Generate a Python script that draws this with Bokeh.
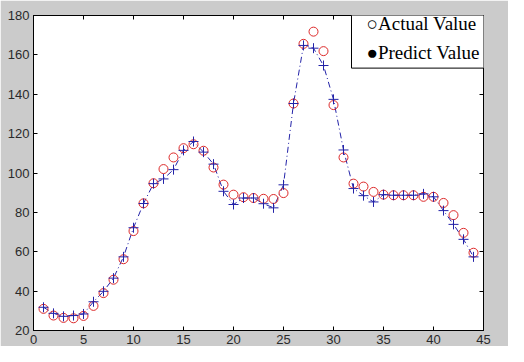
from bokeh.plotting import figure
from bokeh.models import Range1d, FixedTicker, LinearAxis, Label, CustomLabelingPolicy
from bokeh.embed import file_html
from bokeh.resources import INLINE

# ---- data ----
x = list(range(1, 45))
actual = [31, 27.6, 26.4, 26.2, 27.4, 32.5, 39, 45.8, 56.2, 70.5, 84.6, 94.8,
          102, 107.9, 112.6, 114.6, 111.3, 102.8, 94.1, 89, 87.7, 87.3, 86.9,
          86.8, 89.8, 135.3, 165.6, 171.8, 161.9, 134.5, 107.9, 94.6, 93.1,
          90.4, 89, 88.7, 88.7, 88.7, 87.9, 87.9, 84.8, 78.6, 69.6, 59.5]
predict = [31.8, 28.7, 27.2, 27.6, 28.4, 34.6, 39.9, 46.6, 57.4, 72.2, 84.5, 94.6,
           97, 101.7, 111.5, 116, 110.6, 104.5, 90.7, 84, 87.3, 87.3, 84.4,
           82.3, 94, 135.3, 164.8, 163.4, 154.6, 137.4, 111.7, 92.1, 88.5,
           85.3, 89, 88.7, 88.7, 88.7, 89.4, 87.9, 80.9, 73.9, 66.3, 57.4]
x_ticks = [0, 5, 10, 15, 20, 25, 30, 35, 40, 45]
y_ticks = [20, 40, 60, 80, 100, 120, 140, 160, 180]
legend_lines = ["\u25cbActual Value", "\u25cfPredict Value"]

BG = "#cbcbcb"
BLUE = "#2323a8"
RED = "#dd2a2a"
TICK_FONT = "Liberation Sans"

p = figure(width=508, height=346, output_backend="svg", toolbar_location=None,
           x_range=Range1d(0, 45), y_range=Range1d(20, 180),
           min_border_left=33, min_border_right=19, min_border_top=15,
           min_border_bottom=14)
p.border_fill_color = BG
p.background_fill_color = "white"
p.outline_line_color = "black"
p.outline_line_width = 1
p.xgrid.visible = False
p.ygrid.visible = False

no_labels = CustomLabelingPolicy(code="return new indices.constructor(indices.size, 0)")

def style_axis(ax, ticks, show_labels=True):
    ax.ticker = FixedTicker(ticks=ticks)
    ax.major_tick_in = 4
    ax.major_tick_out = 0
    ax.minor_tick_line_color = None
    ax.axis_line_color = "black"
    ax.major_tick_line_color = "black"
    ax.major_label_text_font = TICK_FONT
    ax.major_label_text_font_size = "13px"
    ax.major_label_text_color = "#2a2a2a"
    ax.major_label_standoff = 4 if show_labels else 0
    if not show_labels:
        ax.major_label_policy = no_labels

style_axis(p.xaxis[0], x_ticks)
style_axis(p.yaxis[0], y_ticks)
top_ax = LinearAxis()
right_ax = LinearAxis()
style_axis(top_ax, x_ticks, False)
style_axis(right_ax, y_ticks, False)
p.add_layout(top_ax, "above")
p.add_layout(right_ax, "right")

p.line(x, predict, line_color=BLUE, line_width=1, line_dash="6 3 1 3")
p.scatter(x, actual, marker="circle", size=9, fill_color=None,
          line_color=RED, line_width=1)
p.scatter(x, predict, marker="cross", size=10, line_color=BLUE, line_width=1)

# legend box (padding order: left, right, top, bottom); it runs out past
# the right edge of the axes, as in the reference
legend = Label(x=31.8, y=181.6, x_units="data", y_units="data",
               text="\n".join(legend_lines), anchor="top_left",
               text_font="Liberation Serif", text_font_size="19px",
               text_color="black", text_line_height=1.37,
               background_fill_color="white", border_line_color="black",
               border_line_width=1, padding=(15, 30, 1, 5))
p.add_layout(legend)

open("out.html", "w").write(file_html(p, INLINE))
